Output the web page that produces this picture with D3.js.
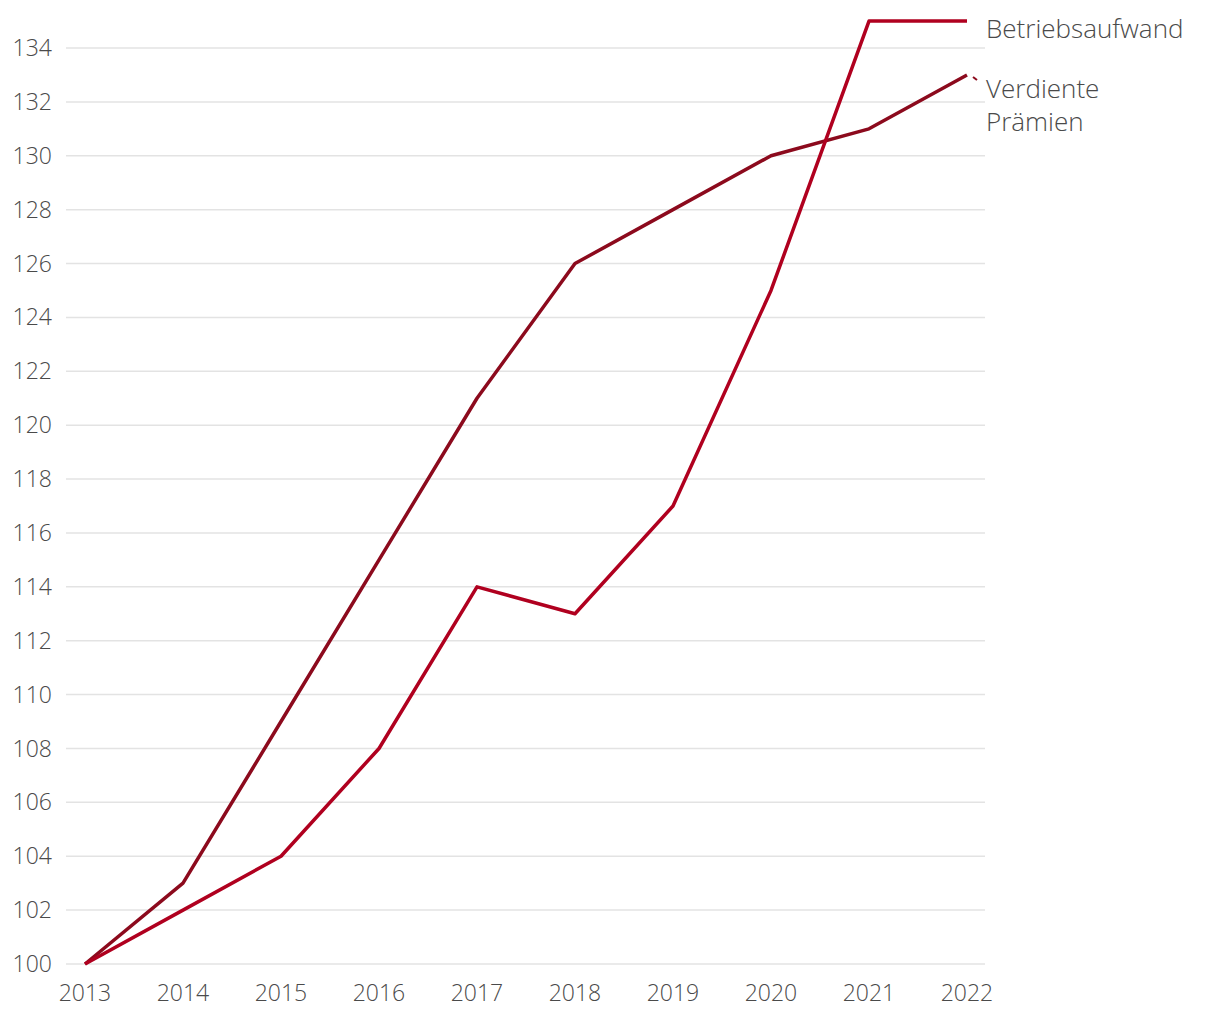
<!DOCTYPE html>
<html><head><meta charset="utf-8">
<script src="https://cdn.jsdelivr.net/npm/d3@7"></script>
<style>
body{margin:0;background:#fff;}
text{font-family:"Open Sans",sans-serif;fill:#4a4a4a;}
</style></head>
<body><svg id="c" width="1220" height="1020"></svg>
<script>
const years = [2013,2014,2015,2016,2017,2018,2019,2020,2021,2022];
const betriebsaufwand = [100,102,104,108,114,113,117,125,135,135];
const verdientePraemien = [100,103,109,115,121,126,128,130,131,133];
const yTicks = [100,102,104,106,108,110,112,114,116,118,120,122,124,126,128,130,132,134];
const seriesNames = ["Betriebsaufwand", ["Verdiente","Prämien"]];
const colors = ["#b0001f","#8c0a1d"];

const svg = d3.select("#c");
const x = d3.scalePoint().domain(years).range([85,967]);
const y = d3.scaleLinear().domain([100,134]).range([964,48]);

svg.append("g").selectAll("line").data(yTicks).join("line")
  .attr("x1",66).attr("x2",985).attr("y1",d=>y(d)).attr("y2",d=>y(d))
  .attr("stroke","#e3e3e3").attr("stroke-width",1.5);

svg.append("g").selectAll("text").data(yTicks).join("text")
  .attr("x",52).attr("y",d=>y(d)).attr("dy","0.35em").attr("text-anchor","end")
  .attr("font-size",23).attr("font-weight",300).text(d=>d);

svg.append("g").selectAll("text").data(years).join("text")
  .attr("x",d=>x(d)).attr("y",1001).attr("text-anchor","middle")
  .attr("font-size",23).attr("font-weight",300).text(d=>d);

const line = d3.line().x((d,i)=>x(years[i])).y(d=>y(d));
svg.append("path").datum(verdientePraemien).attr("d",line)
  .attr("fill","none").attr("stroke",colors[1]).attr("stroke-width",3.5).attr("stroke-linejoin","round");
svg.append("path").datum(betriebsaufwand).attr("d",line)
  .attr("fill","none").attr("stroke",colors[0]).attr("stroke-width",3.5).attr("stroke-linejoin","round");

const lastP = verdientePraemien[verdientePraemien.length-1];
svg.append("line").attr("x1",x(2022)+6).attr("y1",y(lastP)+2).attr("x2",x(2022)+10).attr("y2",y(lastP)+5)
  .attr("stroke",colors[1]).attr("stroke-width",2);

svg.append("text").attr("x",986).attr("y",y(135)+8).attr("dy","0.35em")
  .attr("font-size",26).attr("font-weight",300).text(seriesNames[0]);
const t2 = svg.append("text").attr("x",986).attr("y",y(lastP)+14).attr("dy","0.35em")
  .attr("font-size",26).attr("font-weight",300);
t2.append("tspan").attr("x",986).text(seriesNames[1][0]);
t2.append("tspan").attr("x",986).attr("dy",33).text(seriesNames[1][1]);
</script></body></html>
